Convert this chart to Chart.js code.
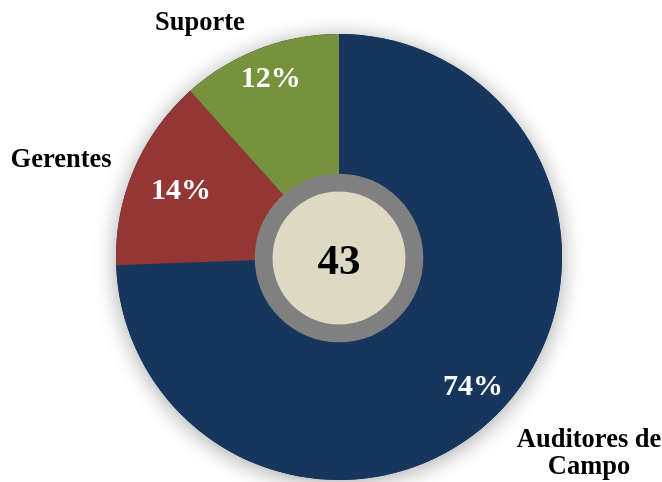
<!DOCTYPE html>
<html>
<head>
<meta charset="utf-8">
<script src="https://cdn.jsdelivr.net/npm/chart.js@4.4.0/dist/chart.umd.min.js"></script>
<style>
  html, body { margin: 0; padding: 0; background: #fff; }
  #wrap { width: 662px; height: 482px; }
</style>
</head>
<body>
<div id="wrap"><canvas id="myChart" width="662" height="482"></canvas></div>
<script>
const labels = [["Auditores de", "Campo"], ["Gerentes"], ["Suporte"]];
const counts = [32, 6, 5];
const colors = ["#17365D", "#943634", "#76923C"];

const total = counts.reduce((a, b) => a + b, 0);
const serif = '"Liberation Serif", "Times New Roman", serif';

// shadow behind the pie, drawn once so slices don't shade each other
const pieShadow = {
  id: "pieShadow",
  beforeDatasetsDraw(chart) {
    const arc = chart.getDatasetMeta(0).data[0];
    const ctx = chart.ctx;
    ctx.save();
    ctx.shadowColor = "rgba(0,0,0,0.35)";
    ctx.shadowBlur = 22;
    ctx.shadowOffsetX = 0;
    ctx.shadowOffsetY = 3;
    ctx.fillStyle = colors[0];
    ctx.beginPath();
    ctx.arc(arc.x, arc.y, arc.outerRadius, 0, Math.PI * 2);
    ctx.fill();
    ctx.restore();
  }
};

const pieLabels = {
  id: "pieLabels",
  afterDatasetsDraw(chart, args, opts) {
    const ctx = chart.ctx;
    const meta = chart.getDatasetMeta(0);
    const first = meta.data[0];
    const cx = first.x, cy = first.y, R = first.outerRadius;

    // centre disc with total
    ctx.save();
    ctx.fillStyle = "#808080";
    ctx.beginPath();
    ctx.arc(cx, cy + 1, R * 0.378, 0, Math.PI * 2);
    ctx.fill();
    ctx.fillStyle = "#DDD9C3";
    ctx.beginPath();
    ctx.arc(cx, cy + 1, R * 0.298, 0, Math.PI * 2);
    ctx.fill();
    ctx.fillStyle = "#000";
    ctx.font = "bold 43px " + serif;
    ctx.textAlign = "center";
    ctx.textBaseline = "middle";
    ctx.fillText(String(total), cx, cy + 6);

    meta.data.forEach((arc, i) => {
      const mid = (arc.startAngle + arc.endAngle) / 2;
      const dx = Math.cos(mid), dy = Math.sin(mid);

      // percentage inside slice
      const pct = Math.round(counts[i] / total * 100) + "%";
      const pr = R * opts.pctRadius[i];
      ctx.fillStyle = "#fff";
      ctx.font = "bold 30px " + serif;
      ctx.textAlign = "center";
      ctx.textBaseline = "middle";
      ctx.fillText(pct, cx + dx * pr, cy + dy * pr + 1);

      // category label outside
      const ax = cx + dx * (R + 24), ay = cy + dy * (R + 24);
      ctx.fillStyle = "#000";
      ctx.font = "bold 26.5px " + serif;
      const lines = labels[i];
      const w = Math.max(...lines.map(l => ctx.measureText(l).width));
      const lh = 27;
      const bh = lines.length * lh;
      let bx = dx >= 0 ? ax + w / 2 : ax - w / 2;
      let by;
      if (dy < -0.7) { by = ay - bh * 0.6; bx -= 6; }
      else if (dy > 0.5) by = ay - 2;
      else by = ay - bh / 2;
      ctx.textAlign = "center";
      ctx.textBaseline = "middle";
      lines.forEach((l, k) => ctx.fillText(l, bx, by + lh * k + lh / 2));
    });
    ctx.restore();
  }
};

const ctx = document.getElementById("myChart").getContext("2d");
const chart = new Chart(ctx, {
  type: "pie",
  data: {
    labels: labels.map(l => l.join(" ")),
    datasets: [{
      data: counts,
      backgroundColor: colors,
      borderWidth: 0
    }]
  },
  options: {
    responsive: false,
    animation: false,
    layout: { padding: { top: 34, bottom: 2, left: 116, right: 100 } },
    plugins: {
      legend: { display: false },
      tooltip: { enabled: false },
      pieLabels: { pctRadius: [0.835, 0.77, 0.857] }
    }
  },
  plugins: [pieShadow, pieLabels]
});
</script>
</body>
</html>
